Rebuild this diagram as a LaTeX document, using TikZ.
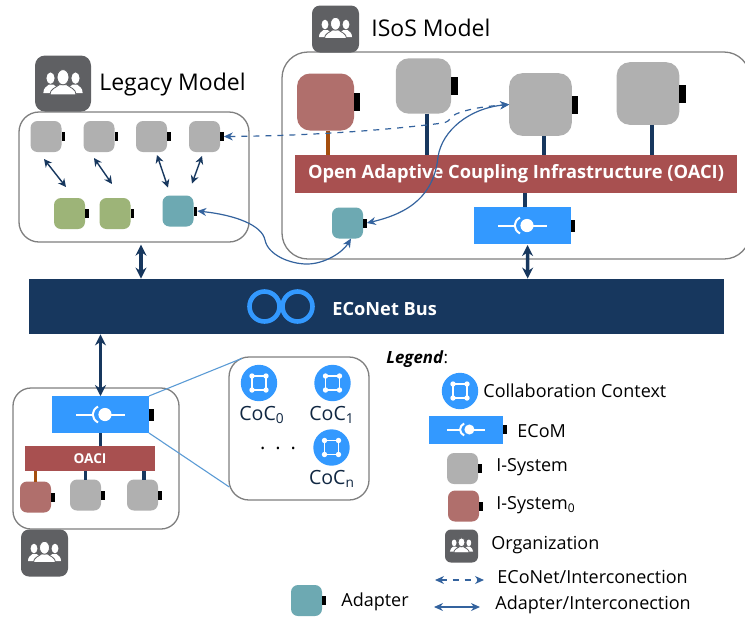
\documentclass[tikz,border=0pt]{standalone}
\usepackage{fontspec}
\setmainfont{Open Sans}
\usetikzlibrary{arrows.meta}
\definecolor{sysgray}{HTML}{B0B0B0}
\definecolor{sysred}{HTML}{B06F6C}
\definecolor{sysgreen}{HTML}{9DB478}
\definecolor{systeal}{HTML}{6DA9B2}
\definecolor{orgdark}{HTML}{5F6063}
\definecolor{framegray}{HTML}{7F7F7F}
\definecolor{busnavy}{HTML}{17375E}
\definecolor{ecomblue}{HTML}{3399FF}
\definecolor{oacired}{HTML}{A85050}
\definecolor{stemorange}{HTML}{A54E0E}
\definecolor{curveblue}{HTML}{34639E}
\definecolor{zoomblue}{HTML}{5B9BD5}
\begin{document}
\begin{tikzpicture}[
    x=.5pt, y=-.5pt,
    frame/.style={draw=framegray, line width=.65pt, fill=white, inner sep=0pt},
    sys/.style={inner sep=0pt, outer sep=0pt, minimum size=15.5pt, rounded corners=3.5pt},
    bigsys/.style={inner sep=0pt, outer sep=0pt, rounded corners=6.5pt},
    tab/.style={fill=black, inner sep=0pt, outer sep=0pt, anchor=west, minimum width=1.9pt, minimum height=4.5pt},
    bigtab/.style={tab, minimum width=3.2pt, minimum height=9pt},
    ecom/.style={fill=ecomblue, inner sep=0pt, outer sep=0pt, minimum width=48.5pt, minimum height=18.5pt},
    org/.style={fill=orgdark, inner sep=0pt, minimum size=23.5pt, rounded corners=4pt},
    ctx/.style={circle, fill=ecomblue, inner sep=0pt, minimum size=18.2pt},
    oaci/.style={fill=oacired, inner sep=0pt, outer sep=0pt, text=white, font=\bfseries},
    txt/.style={inner sep=0pt, anchor=west, font=\fontsize{9}{11}\selectfont},
    coc/.style={inner sep=0pt, font=\fontsize{9.8}{12}\selectfont, text=busnavy!70!black},
    stem/.style={busnavy, line width=1.7pt},
    oldstem/.style={stemorange, line width=1.7pt},
    busarrow/.style={{Stealth[length=5.5pt,width=5.5pt]}-{Stealth[length=5.5pt,width=5.5pt]}, busnavy, line width=1.7pt},
    arrow/.style={{Stealth[length=4pt,width=4pt]}-{Stealth[length=4pt,width=4pt]}, busnavy, line width=.7pt},
    curve/.style={{Stealth[length=4.5pt,width=4pt]}-{Stealth[length=4.5pt,width=4pt]}, curveblue, line width=.6pt},
    people/.pic={
        \fill[white] (-16.5,8) .. controls (-16.5,3.5) and (-14,3) .. (-12,1) -- (-8,1) .. controls (-6,3) and (-3,3) .. (-3,8) -- cycle;
        \fill[white] (16.5,8) .. controls (16.5,3.5) and (14,3) .. (12,1) -- (8,1) .. controls (6,3) and (3,3) .. (3,8) -- cycle;
        \fill[white] (-10.5,-4.5) ellipse[x radius=3.4, y radius=4.8];
        \fill[white] (10.5,-4.5) ellipse[x radius=3.4, y radius=4.8];
        \filldraw[white, draw=orgdark, line width=.4pt] (-11,9.5) .. controls (-11,4.5) and (-6,3.5) .. (-3,1) -- (3,1) .. controls (6,3.5) and (11,4.5) .. (11,9.5) -- cycle;
        \filldraw[white, draw=orgdark, line width=.4pt] (0,-5.3) ellipse[x radius=5, y radius=6.4];
    },
    ballsocket/.pic={
        \draw[white, line width=1pt] (-24.5,0) -- (-7.5,0);
        \draw[white, line width=1pt] (-2.5,-8) .. controls (-9.5,-4) and (-9.5,4) .. (-2.5,8);
        \draw[white, line width=1pt] (4.5,0) -- (24.5,0);
        \fill[white] (4.5,0) circle[radius=6.6];
    },
    square/.pic={
        \draw[white, line width=.75pt] (-7,-7) rectangle (7,7);
        \fill[white] (-7,-7) circle[radius=2.7];
        \fill[white] (7,-7) circle[radius=2.7];
        \fill[white] (-7,7) circle[radius=2.7];
        \fill[white] (7,7) circle[radius=2.7];
    }
]
    \useasboundingbox (0,0) rectangle (745,618);

    % Legacy model
    \node[frame, minimum width=115pt, minimum height=65pt, rounded corners=10pt] (legacy) at (134,177) {};
    \node[org, minimum size=28pt, rounded corners=5pt] (orgl) at (63,83.5) {};
    \pic[scale=1.19] at (orgl.center) {people};
    \node[txt, font=\fontsize{11.5}{14}\selectfont] (tl) at (99,85) {Legacy Model};

    \node[sys, fill=sysgray] (l1) at (46,136.5) {};
    \node[sys, fill=sysgray] (l2) at (99,136.5) {};
    \node[sys, fill=sysgray] (l3) at (151.5,136.5) {};
    \node[sys, fill=sysgray] (l4) at (204.5,136.5) {};
    \node[sys, fill=sysgreen] (g1) at (69.5,213.5) {};
    \node[sys, fill=sysgreen] (g2) at (115,213.5) {};
    \node[sys, fill=systeal] (a1) at (178,211) {};
    \node[tab] (pl1) at (l1.east) {};
    \node[tab] (pl2) at (l2.east) {};
    \node[tab] (pl3) at (l3.east) {};
    \node[tab] (pl4) at (l4.east) {};
    \node[tab] (pg1) at (g1.east) {};
    \node[tab] (pg2) at (g2.east) {};
    \node[tab] (pa1) at (a1.east) {};

    % ISoS model
    \node[frame, minimum width=234pt, minimum height=103.5pt, rounded corners=13pt] (isos) at (516,155.5) {};
    \node[org] (orgi) at (335.5,29) {};
    \pic at (orgi.center) {people};
    \node[txt, font=\fontsize{11.5}{14}\selectfont] (ti) at (371,28) {ISoS Model};

    \node[bigsys, fill=sysred, minimum size=28.5pt] (i0) at (325.5,102) {};
    \node[bigsys, fill=sysgray, minimum size=27.7pt] (i1) at (423.5,86) {};
    \node[bigsys, fill=sysgray, minimum size=31.3pt] (i2) at (540.5,104.5) {};
    \node[bigsys, fill=sysgray, minimum size=31.3pt] (i3) at (648,93.5) {};
    \node[bigtab] (pi0) at (i0.east) {};
    \node[bigtab] (pi1) at (i1.east) {};
    \node[bigtab] (pi2) at (i2.east) {};
    \node[bigtab] (pi3) at (i3.east) {};

    \node[oaci, minimum width=221pt, minimum height=19pt, font=\bfseries\fontsize{9.15}{12}\selectfont] (oacibig) at (516,174) {Open Adaptive Coupling Infrastructure (OACI)};
    \node[sys, fill=systeal] (a2) at (347.5,223) {};
    \node[tab] (pa2) at (a2.east) {};
    \node[ecom] (e1) at (522.5,225.5) {};
    \pic at (e1.center) {ballsocket};
    \node[tab, minimum width=2.2pt, minimum height=6pt] (pe1) at (e1.east) {};

    \draw[oldstem] ([shift={(2.5,0)}]i0.south) -- ([shift={(2.5,0)}]i0.south |- oacibig.north);
    \draw[stem] ([shift={(3.5,0)}]i1.south) -- ([shift={(3.5,0)}]i1.south |- oacibig.north);
    \draw[stem] ([shift={(3.5,0)}]i2.south) -- ([shift={(3.5,0)}]i2.south |- oacibig.north);
    \draw[stem] ([shift={(4,0)}]i3.south) -- ([shift={(4,0)}]i3.south |- oacibig.north);
    \draw[stem] ([shift={(2.5,0)}]e1.north) -- ([shift={(2.5,0)}]e1.north |- oacibig.south);

    % Bus
    \node[fill=busnavy, inner sep=0pt, minimum width=347.5pt, minimum height=27.5pt] (bus) at (376.5,306.5) {};
    \node[circle, draw=ecomblue, line width=2.3pt, inner sep=0pt, minimum size=15pt] (ring1) at (264.5,306.5) {};
    \node[circle, draw=ecomblue, line width=2.3pt, inner sep=0pt, minimum size=15pt] (ring2) at (297.5,306.5) {};
    \node[txt, text=white, font=\bfseries\fontsize{9.1}{11}\selectfont] (tbus) at (332,309) {ECoNet Bus};

    % Organization below the bus
    \node[frame, minimum width=83pt, minimum height=70.5pt, rounded corners=9pt] (lower) at (96,458.5) {};
    \node[org] (orgb) at (44.5,553) {};
    \pic at (orgb.center) {people};
    \node[ecom] (e2) at (100.5,414.5) {};
    \pic at (e2.center) {ballsocket};
    \node[tab, minimum width=2.5pt, minimum height=6pt] (pe2) at (e2.east) {};
    \node[oaci, minimum width=65pt, minimum height=12.5pt, font=\bfseries\fontsize{6.8}{9}\selectfont] (oacismall) at (90,458.5) {OACI};
    \node[sys, fill=sysred] (b0) at (35.5,497) {};
    \node[sys, fill=sysgray] (b1) at (85.5,495) {};
    \node[sys, fill=sysgray] (b2) at (142.5,495) {};
    \node[tab] (pb0) at (b0.east) {};
    \node[tab] (pb1) at (b1.east) {};
    \node[tab] (pb2) at (b2.east) {};
    \draw[stem] (e2.south) -- (e2.south |- oacismall.north);
    \draw[oldstem] (b0.north) -- (b0.north |- oacismall.south);
    \draw[stem] (b1.north) -- (b1.north |- oacismall.south);
    \draw[stem] ([shift={(1.5,0)}]b2.north) -- ([shift={(1.5,0)}]b2.north |- oacismall.south);

    % Collaboration contexts
    \node[frame, minimum width=70pt, minimum height=71.5pt, rounded corners=10pt] (cocs) at (299,428.5) {};
    \node[ctx] (c0) at (259,383) {};
    \node[ctx] (c1) at (332.5,383) {};
    \node[ctx] (cn) at (331.5,447.5) {};
    \pic at (c0.center) {square};
    \pic at (c1.center) {square};
    \pic at (cn.center) {square};
    \node[coc] (t0) at (262,415) {CoC\textsubscript{0}};
    \node[coc] (t1) at (332,415) {CoC\textsubscript{1}};
    \node[coc] (tn) at (332,479) {CoC\textsubscript{n}};
    \node[inner sep=0pt, font=\fontsize{10}{12}\selectfont] (tdots) at (278,448) {.\,\,\,.\,\,\,.};
    \draw[zoomblue, line width=.55pt] (e2.north east) -- ([shift={(-57,2)}]cocs.north);
    \draw[zoomblue, line width=.55pt] (e2.south east) -- ([shift={(1,58.5)}]cocs.west);

    % Legend
    \node[txt, font=\fontsize{8.4}{10}\selectfont] (tleg) at (386,359) {\textbf{\textit{Legend}}:};
    \node[ctx] (lc) at (460,391) {};
    \pic at (lc.center) {square};
    \node[txt] (t1l) at (483,391) {Collaboration Context};
    \node[ecom, minimum width=37pt, minimum height=14pt] (le) at (466,429.5) {};
    \pic[scale=.76] at (le.center) {ballsocket};
    \node[tab, minimum height=4.8pt, minimum width=2pt] (ple) at (le.east) {};
    \node[txt] (t2l) at (517,431) {ECoM};
    \node[sys, fill=sysgray] (ls) at (462.5,468.5) {};
    \node[tab] (pls) at (ls.east) {};
    \node[txt] (t3l) at (496,467) {I-System};
    \node[sys, fill=sysred] (lr) at (463.5,506) {};
    \node[tab] (plr) at (lr.east) {};
    \node[txt] (t4l) at (496,505.5) {I-System\textsubscript{0}};
    \node[org, minimum size=16.5pt, rounded corners=3pt] (lo) at (461.5,546) {};
    \pic[scale=.7] at (lo.center) {people};
    \node[txt] (t5l) at (491,545) {Organization};
    \coordinate (ld1) at (435,580);
    \coordinate (ld2) at (484,580);
    \draw[curve, dashed] (ld1) -- (ld2);
    \node[txt] (t6l) at (497,576.5) {ECoNet/Interconection};
    \coordinate (ls1) at (434,607);
    \coordinate (ls2) at (480,607);
    \draw[curve] (ls1) -- (ls2);
    \node[txt] (t7l) at (495,605) {Adapter/Interconection};
    \node[sys, fill=systeal] (la) at (306.5,600.5) {};
    \node[tab] (pla) at (la.east) {};
    \node[txt] (t8l) at (341,602) {Adapter};

    % Connections
    \draw[arrow] ([shift={(-2,7)}]l1.south) -- ([shift={(-3.5,-11)}]g1.north);
    \draw[arrow] ([shift={(-5,6)}]l2.south) -- ([shift={(-3,-14)}]g2.north);
    \draw[arrow] ([shift={(5.5,3)}]l3.south) -- ([shift={(-10,-8)}]a1.north);
    \draw[arrow] ([shift={(-2.5,4)}]l4.south) -- ([shift={(14,-12)}]a1.north);

    \draw[busarrow] ([shift={(7,2)}]legacy.south) -- ([shift={(-235.5,0)}]bus.north);
    \draw[busarrow] ([shift={(5,1)}]e1.south) -- ([shift={(151.2,0)}]bus.north);
    \draw[busarrow] ([shift={(-276,0)}]bus.south) -- (e2.north);

    \draw[curve, dashed] (pl4.east) .. controls (300,136) and (380,131) .. (443,123) .. controls (452,121) and (450,116) .. (456,114) .. controls (470,108) and (490,106) .. (i2.west);
    \draw[curve] (pa2.east) .. controls (410,213) and (434,195) .. (438,157) .. controls (442,130) and (470,108) .. (i2.west);
    \draw[curve] (pa1.east) .. controls (235,215) and (262,225) .. (265,240) .. controls (268,255) and (290,264) .. (307,264) .. controls (325,264) and (343,252) .. ([shift={(3.5,0)}]a2.south);
\end{tikzpicture}
\end{document}
